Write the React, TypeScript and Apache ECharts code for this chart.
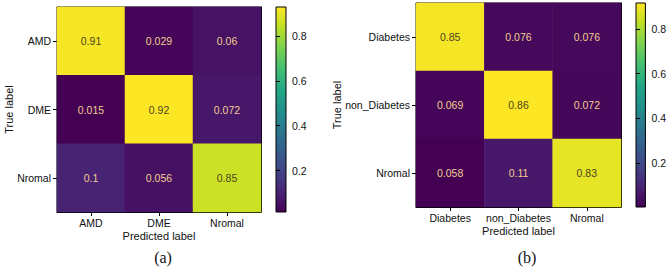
import React, { useEffect, useRef } from 'react';
import * as echarts from 'echarts';

// ---- data ----
const classesA = ['AMD', 'DME', 'Nromal'];
const matrixA = [
  [0.91, 0.029, 0.06],
  [0.015, 0.92, 0.072],
  [0.1, 0.056, 0.85],
];
const classesB = ['Diabetes', 'non_Diabetes', 'Nromal'];
const matrixB = [
  [0.85, 0.076, 0.076],
  [0.069, 0.86, 0.072],
  [0.058, 0.11, 0.83],
];
const colorbarTicks = [0.2, 0.4, 0.6, 0.8];
const colorRangeA = [0.015, 0.92];
const colorRangeB = [0.058, 0.86];
const colorbarRangeA = [0.015, 0.93];
const colorbarRangeB = [0.003, 0.916];
const captions = ['(a)', '(b)'];
const axisNames = { x: 'Predicted label', y: 'True label' };
const viridis = ['#440154', '#482475', '#414487', '#355f8d', '#2a788e', '#21918c', '#22a884', '#44bf70', '#7ad151', '#bddf26', '#fde725'];

const FONT = 'Liberation Sans';
const TXT = '#111';
const LIGHT = '#f2cc8f';
const DARK = '#4b4420';

function buildData(m: number[][], range: number[]) {
  const mid = (range[0] + range[1]) / 2;
  const out: any[] = [];
  m.forEach((row, i) =>
    row.forEach((v, j) => {
      out.push({ value: [j, i, v], label: { color: v > mid ? DARK : LIGHT } });
    })
  );
  return out;
}

function gradient() {
  return new echarts.graphic.LinearGradient(
    0, 1, 0, 0,
    viridis.map((c, i) => ({ offset: i / (viridis.length - 1), color: c }))
  );
}

const lineStyle = { color: '#000', width: 1 };

function catX(gridIndex: number, data: string[], main: boolean) {
  return {
    type: 'category',
    gridIndex,
    data,
    position: main ? 'bottom' : 'top',
    axisLine: { show: true, lineStyle },
    axisTick: { show: main, alignWithLabel: true, length: 4, lineStyle },
    axisLabel: { show: main, interval: 0, hideOverlap: false, color: TXT, fontFamily: FONT, fontSize: 10.5, margin: 5 },
    splitLine: { show: false },
    name: main ? axisNames.x : '',
    nameLocation: 'middle',
    nameGap: 18,
    nameMoveOverlap: false,
    nameTextStyle: { color: TXT, fontFamily: FONT, fontSize: 11 },
  };
}

function catY(gridIndex: number, data: string[], main: boolean, gap: number) {
  return {
    type: 'category',
    gridIndex,
    data,
    inverse: true,
    position: main ? 'left' : 'right',
    axisLine: { show: true, lineStyle },
    axisTick: { show: main, alignWithLabel: true, length: 4, lineStyle },
    axisLabel: { show: main, interval: 0, color: TXT, fontFamily: FONT, fontSize: 10.5, margin: 6 },
    splitLine: { show: false },
    name: main ? axisNames.y : '',
    nameLocation: 'middle',
    nameGap: gap,
    nameRotate: 90,
    nameMoveOverlap: false,
    nameTextStyle: { color: TXT, fontFamily: FONT, fontSize: 11 },
  };
}

function barX(gridIndex: number) {
  return { type: 'value', gridIndex, show: false, min: 0, max: 1 };
}

function barY(gridIndex: number, range: number[]) {
  return {
    type: 'value',
    gridIndex,
    position: 'right',
    min: range[0],
    max: range[1],
    axisLine: { show: false },
    axisTick: { show: true, length: 4, lineStyle, customValues: colorbarTicks },
    axisLabel: {
      show: true,
      color: TXT,
      fontFamily: FONT,
      fontSize: 10.5,
      margin: 6,
      customValues: colorbarTicks,
      formatter: (v: number) => v.toFixed(1),
    },
    splitLine: { show: false },
  };
}

export default function App() {
  const ref = useRef<HTMLDivElement>(null);
  useEffect(() => {
    if (!ref.current) return;
    const chart = echarts.init(ref.current, undefined, { renderer: 'svg' });
    const heatGrid = { show: true, borderColor: '#000', borderWidth: 1, backgroundColor: 'transparent' };
    const barGrid = { show: true, borderColor: '#000', borderWidth: 1, backgroundColor: gradient() };
    chart.setOption({
      animation: false,
      backgroundColor: '#fff',
      grid: [
        { ...heatGrid, left: 57, top: 7, width: 204, height: 205 },
        { ...barGrid, left: 276, top: 7, width: 10, height: 205 },
        { ...heatGrid, left: 416, top: 3, width: 205, height: 204 },
        { ...barGrid, left: 636, top: 3, width: 10, height: 204 },
      ],
      xAxis: [
        catX(0, classesA, true),
        catX(0, classesA, false),
        barX(1),
        catX(2, classesB, true),
        catX(2, classesB, false),
        barX(3),
      ],
      yAxis: [
        catY(0, classesA, true, 43),
        catY(0, classesA, false, 0),
        barY(1, colorbarRangeA),
        catY(2, classesB, true, 74),
        catY(2, classesB, false, 0),
        barY(3, colorbarRangeB),
      ],
      visualMap: [
        { show: false, seriesIndex: 0, dimension: 2, min: colorRangeA[0], max: colorRangeA[1], inRange: { color: viridis } },
        { show: false, seriesIndex: 1, dimension: 2, min: colorRangeB[0], max: colorRangeB[1], inRange: { color: viridis } },
      ],
      series: [
        {
          type: 'heatmap',
          xAxisIndex: 0,
          yAxisIndex: 0,
          data: buildData(matrixA, colorRangeA),
          label: { show: true, fontFamily: FONT, fontSize: 10.5, formatter: (p: any) => String(p.value[2]) },
          itemStyle: { borderWidth: 0 },
          emphasis: { disabled: true },
        },
        {
          type: 'heatmap',
          xAxisIndex: 3,
          yAxisIndex: 3,
          data: buildData(matrixB, colorRangeB),
          label: { show: true, fontFamily: FONT, fontSize: 10.5, formatter: (p: any) => String(p.value[2]) },
          itemStyle: { borderWidth: 0 },
          emphasis: { disabled: true },
        },
      ],
      graphic: [
        {
          type: 'text',
          x: 163,
          y: 257,
          style: { text: captions[0], fontSize: 16, fontFamily: 'Liberation Serif', fill: '#111', align: 'center', verticalAlign: 'middle' },
        },
        {
          type: 'text',
          x: 527,
          y: 257,
          style: { text: captions[1], fontSize: 16, fontFamily: 'Liberation Serif', fill: '#111', align: 'center', verticalAlign: 'middle' },
        },
      ],
    });
    return () => chart.dispose();
  }, []);
  return (
    <div
      ref={ref}
      style={{ position: 'fixed', left: 0, top: 0, width: 669, height: 267, background: '#fff' }}
    />
  );
}
